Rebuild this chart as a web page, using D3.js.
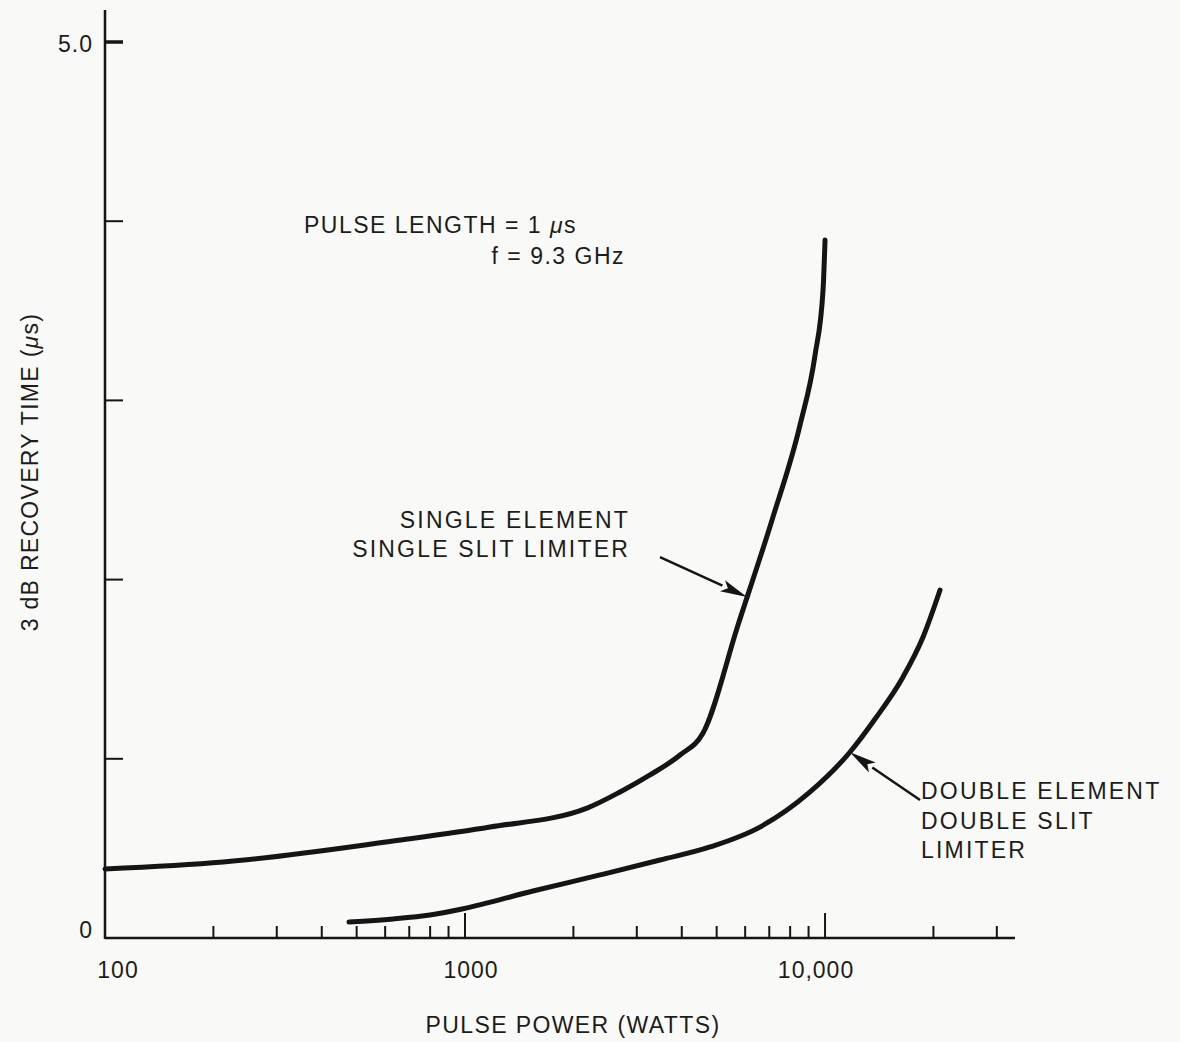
<!DOCTYPE html>
<html>
<head>
<meta charset="utf-8">
<script src="https://cdn.jsdelivr.net/npm/d3@7"></script>
<style>
  body { margin: 0; background: #f9f9f8; }
  svg text { font-family: "Liberation Sans", Arial, Helvetica, sans-serif; fill: #1c1c1c; }
</style>
</head>
<body>
<div class="content"></div>
<script>
// Curve data: pulse power (W) vs 3 dB recovery time (us)
var singlePower = [100, 213, 631, 1173, 2183, 2696, 3265, 3956, 4583, 5732, 7125, 8523, 9380, 9873, 10000];
var singleTime  = [0.385, 0.424, 0.541, 0.619, 0.725, 0.815, 0.91, 1.021, 1.144, 1.747, 2.333, 2.863, 3.253, 3.616, 3.895];

var doublePower = [476, 631, 799, 981, 1545, 2371, 3481, 4794, 6596, 9085, 11734, 13767, 16469, 18719, 20866];
var doubleTime  = [0.089, 0.106, 0.128, 0.162, 0.262, 0.352, 0.435, 0.508, 0.619, 0.815, 1.038, 1.222, 1.457, 1.68, 1.942];

// Axis ticks
var xMinorTicks = [200, 300, 400, 500, 600, 700, 800, 900,
                   2000, 3000, 4000, 5000, 6000, 7000, 8000, 9000, 20000, 30000];
var xMajorTicks = [1000, 10000];
var xLabelValues = [100, 1000, 10000];
var xLabelTexts = ["100", "1000", "10,000"];
var yTicks = [1, 2, 3, 4, 5];
var yLabelValues = [0, 5];
var yLabelTexts = ["0", "5.0"];

var width = 1180, height = 1042;

var svg = d3.select(".content").append("svg")
    .attr("width", width)
    .attr("height", height);

// scales (log power on x, linear time on y)
var x = d3.scaleLog()
  .domain([100, 33700])
  .range([105, 1015]);
var y = d3.scaleLinear()
  .domain([0, 5])
  .range([938, 42]);

var ink = "#151515";

// X axis: line plus upward ticks
svg.append("line")
  .attr("x1", x(100)).attr("x2", x(33700))
  .attr("y1", y(0)).attr("y2", y(0))
  .style("stroke", ink).style("stroke-width", 2.5);

svg.selectAll(".xminor")
  .data(xMinorTicks)
  .enter()
  .append("line")
    .attr("class", "xminor")
    .attr("x1", function(d) { return x(d) })
    .attr("x2", function(d) { return x(d) })
    .attr("y1", y(0))
    .attr("y2", y(0) - 12)
    .style("stroke", ink).style("stroke-width", 2);

svg.selectAll(".xmajor")
  .data(xMajorTicks)
  .enter()
  .append("line")
    .attr("class", "xmajor")
    .attr("x1", function(d) { return x(d) })
    .attr("x2", function(d) { return x(d) })
    .attr("y1", y(0))
    .attr("y2", y(0) - 25)
    .style("stroke", ink).style("stroke-width", 2);

svg.selectAll(".xlabel")
  .data(xLabelValues)
  .enter()
  .append("text")
    .attr("class", "xlabel")
    .attr("x", function(d) { return x(d) })
    .attr("y", y(0) + 40)
    .attr("dx", function(d, i) { return [13, 6, -9][i] })
    .attr("text-anchor", "middle")
    .style("font-size", "23px")
    .style("letter-spacing", "1px")
    .text(function(d, i) { return xLabelTexts[i] });

// Y axis: line plus ticks pointing right
svg.append("line")
  .attr("x1", x(100)).attr("x2", x(100))
  .attr("y1", 10).attr("y2", y(0) + 1)
  .style("stroke", ink).style("stroke-width", 2.5);

svg.selectAll(".ytick")
  .data(yTicks)
  .enter()
  .append("line")
    .attr("class", "ytick")
    .attr("x1", x(100))
    .attr("x2", x(100) + 18)
    .attr("y1", function(d) { return y(d) })
    .attr("y2", function(d) { return y(d) })
    .style("stroke", ink)
    .style("stroke-width", function(d) { return d === 5 ? 3.5 : 2 });

svg.selectAll(".ylabel")
  .data(yLabelValues)
  .enter()
  .append("text")
    .attr("class", "ylabel")
    .attr("x", x(100) - 12)
    .attr("y", function(d) { return y(d) })
    .attr("dy", function(d) { return d === 0 ? "0.02em" : "0.45em" })
    .attr("text-anchor", "end")
    .style("font-size", "23px")
    .style("letter-spacing", "1px")
    .text(function(d, i) { return yLabelTexts[i] });

// Axis titles
svg.append("text")
  .attr("x", 573)
  .attr("y", 1033)
  .attr("text-anchor", "middle")
  .style("font-size", "23px")
  .style("letter-spacing", "1.4px")
  .text("PULSE POWER (WATTS)");

svg.append("text")
  .attr("transform", "translate(38,472) rotate(-90)")
  .attr("text-anchor", "middle")
  .style("font-size", "23px")
  .style("letter-spacing", "1.3px")
  .html("3 dB RECOVERY TIME (<tspan font-style='italic'>μ</tspan>s)");

// The two curves
var line = d3.line()
  .x(function(d) { return x(d.p) })
  .y(function(d) { return y(d.t) })
  .curve(d3.curveMonotoneX);

var curves = [
  singlePower.map(function(p, i) { return {p: p, t: singleTime[i]} }),
  doublePower.map(function(p, i) { return {p: p, t: doubleTime[i]} })
];

svg.selectAll(".curve")
  .data(curves)
  .enter()
  .append("path")
    .attr("class", "curve")
    .attr("d", function(d) { return line(d) })
    .style("fill", "none")
    .style("stroke", ink)
    .style("stroke-width", 5)
    .style("stroke-linecap", "round")
    .style("stroke-linejoin", "round");

// Arrows from the labels to the curves (tail / tip in data coordinates)
var arrows = [
  {from: [3480, 2.126], to: [6070, 1.903]},
  {from: [18360, 0.77], to: [11730, 1.036]}
];

arrows.forEach(function(a) {
  var x0 = x(a.from[0]), y0 = y(a.from[1]),
      x1 = x(a.to[0]), y1 = y(a.to[1]);
  var ang = Math.atan2(y1 - y0, x1 - x0);
  var headLen = 27, headW = 6;
  var bx = x1 - headLen * Math.cos(ang), by = y1 - headLen * Math.sin(ang);
  svg.append("line")
    .attr("x1", x0).attr("y1", y0)
    .attr("x2", bx).attr("y2", by)
    .style("stroke", ink).style("stroke-width", 2.5);
  var px = -Math.sin(ang) * headW, py = Math.cos(ang) * headW;
  svg.append("path")
    .attr("d", "M" + x1 + "," + y1 +
               "L" + (bx + px) + "," + (by + py) +
               "L" + (bx + 6 * Math.cos(ang)) + "," + (by + 6 * Math.sin(ang)) +
               "L" + (bx - px) + "," + (by - py) + "Z")
    .style("fill", ink);
});

// Annotation text
var notes = [
  {x: 304, y: 233, anchor: "start", text: "PULSE LENGTH = 1 <tspan font-style='italic'>μ</tspan>s"},
  {x: 625, y: 264, anchor: "end", text: "f = 9.3 GHz"},
  {x: 630, y: 528, anchor: "end", text: "SINGLE ELEMENT"},
  {x: 630, y: 557, anchor: "end", text: "SINGLE SLIT LIMITER"},
  {x: 921, y: 799, anchor: "start", text: "DOUBLE ELEMENT"},
  {x: 921, y: 829, anchor: "start", text: "DOUBLE SLIT"},
  {x: 921, y: 858, anchor: "start", text: "LIMITER"}
];

svg.selectAll(".note")
  .data(notes)
  .enter()
  .append("text")
    .attr("class", "note")
    .attr("x", function(d) { return d.x })
    .attr("y", function(d) { return d.y })
    .attr("text-anchor", function(d) { return d.anchor })
    .style("font-size", "23px")
    .style("letter-spacing", function(d, i) { return i < 2 ? "1.5px" : "2.2px" })
    .html(function(d) { return d.text });
</script>
</body>
</html>
